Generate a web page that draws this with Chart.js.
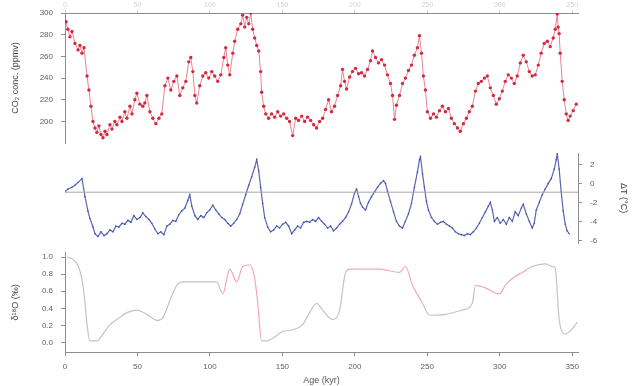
<!DOCTYPE html>
<html>
<head>
<meta charset="utf-8">
<title>Ice core record</title>
<script src="https://cdn.jsdelivr.net/npm/chart.js@4.4.1/dist/chart.umd.min.js"></script>
<style>
    body { margin: 0; background: #fff; }
    #wrap { position: relative; width: 633px; height: 386px; overflow: hidden; }
    #wrap canvas { position: absolute; left: 0; }
</style>
</head>
<body>
<div id="wrap">
    <canvas id="co2Chart" width="633" height="156" style="top:0px"></canvas>
    <canvas id="tempChart" width="633" height="116" style="top:140px"></canvas>
    <canvas id="isoChart" width="633" height="146" style="top:240px"></canvas>
</div>
<script>
// Age axis (kyr before present)
const ageMin = 0;
const ageMax = 354;
const ageTicks = [0, 50, 100, 150, 200, 250, 300, 350];

// CO2 record
const co2Age = [
    0.7, 2, 3.4, 4.8, 6.9, 9, 10.3, 11.7, 13.1, 15.2,
    16.5, 17.9, 19.3, 20.7, 22, 23.4, 24.8, 26.2, 27.6, 28.9,
    31, 32.4, 34.4, 35.8, 37.9, 39.3, 41.3, 42.7, 44.8, 46.2,
    48.2, 49.6, 51.7, 53.7, 55.1, 56.5, 58.6, 60.6, 62.7, 64.8,
    66.8, 68.9, 71, 73, 75.1, 77.2, 79.2, 81.3, 83.4, 85.4,
    86.8, 88.2, 89.6, 90.9, 93, 95.1, 97.1, 99.2, 101.3, 103.3,
    105.4, 107.5, 109.6, 110.9, 112.3, 113.7, 115.8, 117.1, 119.2, 121.3,
    122.6, 124, 125.4, 126.8, 128.2, 129.5, 130.9, 132.3, 133.7, 135,
    135.7, 137.1, 138.5, 140.5, 142.6, 144.7, 146.8, 148.8, 150.9, 153,
    155, 157.1, 159.2, 161.2, 163.3, 165.4, 167.4, 169.5, 171.6, 173.6,
    175.7, 177.8, 179.8, 181.9, 183.9, 186, 188.1, 190.2, 191.5, 192.9,
    194.3, 196.4, 198.4, 200.5, 202.6, 204.6, 206.7, 208.8, 210.8, 212.2,
    214.3, 216.3, 218.4, 220.5, 222.5, 224.6, 226, 227.4, 228.7, 230.8,
    232.9, 234.9, 237, 239.1, 241.1, 243.2, 244.6, 246, 247.3, 248.7,
    250.1, 252.2, 254.3, 256.3, 258.4, 260.4, 262.5, 264.6, 266.6, 268.7,
    270.8, 272.8, 274.9, 277, 279, 281.1, 283.2, 285.2, 287.3, 289.4,
    291.4, 293.5, 295.6, 297.6, 299.7, 301.8, 303.8, 305.9, 308, 310,
    312.1, 314.2, 316.2, 318.3, 320.4, 322.4, 324.5, 326.6, 328.6, 330.7,
    332.8, 334.8, 336.9, 338.3, 339.7, 340.3, 341, 341.7, 343.1, 344.5,
    345.9, 347.2, 348.6, 350.7, 352.8
];
const co2Ppm = [
    292, 285, 278, 283, 272, 266, 270, 263, 268, 242,
    229, 214, 200, 194, 190, 196, 188, 185, 191, 188,
    197, 193, 200, 197, 204, 200, 209, 203, 214, 207,
    220, 226, 216, 214, 217, 224, 209, 203, 198, 203,
    207, 233, 240, 229, 237, 242, 224, 231, 237, 255,
    259, 246, 224, 217, 233, 242, 245, 240, 246, 242,
    237, 243, 259, 268, 252, 243, 263, 274, 285, 290,
    298, 287, 296, 290, 300, 285, 277, 270, 265, 246,
    227, 214, 207, 203, 207, 204, 209, 205, 207, 203,
    200, 187, 203, 201, 205, 200, 204, 201, 197, 194,
    200, 203, 211, 220, 209, 214, 224, 233, 248, 237,
    230, 241, 246, 249, 244, 245, 242, 248, 256, 265,
    259, 254, 257, 252, 243, 235, 224, 202, 215, 224,
    235, 240, 247, 252, 261, 268, 279, 263, 242, 229,
    209, 203, 207, 204, 210, 214, 209, 212, 203, 198,
    194, 191, 198, 203, 209, 214, 228, 235, 237, 240,
    242, 231, 224, 216, 221, 228, 237, 243, 240, 235,
    242, 254, 261, 255, 246, 242, 243, 252, 263, 272,
    274, 269, 277, 285, 299, 287, 281, 263, 237, 220,
    207, 201, 205, 210, 216
];
const co2Ticks = [200, 220, 240, 260, 280, 300];

// Temperature anomaly record
const tempAge = [
    0, 2.1, 4.8, 6.9, 9, 11.7, 13.8, 15.8, 17.2, 19.3,
    20.7, 22.7, 24.8, 26.9, 28.9, 31, 33.1, 35.1, 37.2, 39.3,
    41.3, 43.4, 45.5, 47.5, 49.6, 51.7, 53.7, 55.8, 57.9, 59.9,
    62, 64.1, 66.1, 68.2, 70.3, 72.3, 74.4, 76.5, 78.5, 80.6,
    82.7, 84.7, 86.1, 87.5, 89.6, 91.6, 93.7, 95.8, 97.8, 99.9,
    102, 104, 106.1, 108.2, 110.2, 112.3, 114.4, 116.4, 118.5, 120.6,
    122.6, 124.7, 126.8, 128.8, 130.9, 132.3, 133.7, 135, 136.4, 137.8,
    139.9, 141.9, 144, 146.1, 148.1, 150.2, 152.3, 154.3, 156.4, 158.5,
    160.5, 162.6, 164.7, 166.7, 168.8, 170.9, 172.9, 175, 177.1, 179.1,
    181.2, 183.3, 185.3, 187.4, 189.5, 191.5, 193.6, 195.7, 197.7, 199.8,
    201.2, 202.6, 203.9, 205.3, 207.4, 209.4, 211.5, 213.6, 215.7, 217.7,
    219.8, 221.2, 222.5, 224.6, 226.7, 228.7, 230.8, 232.9, 234.9, 237,
    239.1, 241.1, 243.2, 244.6, 245.3, 246.7, 248, 249.4, 250.8, 252.9,
    254.9, 257, 259.1, 261.1, 263.2, 265.3, 267.3, 269.4, 271.4, 273.5,
    275.6, 277.7, 279.7, 281.8, 283.9, 285.9, 288, 290.1, 292.1, 293.5,
    294.9, 296.3, 298.3, 300.4, 302.5, 304.5, 306.6, 308.7, 310.7, 312.8,
    314.9, 316.2, 318.3, 320.4, 322.4, 323.8, 325.2, 327.3, 329.3, 331.4,
    333.5, 335.5, 337.6, 339, 339.7, 341, 342.4, 343.8, 345.2, 346.5,
    347.9
];
const tempDelta = [
    -0.9, -0.6, -0.4, -0.2, 0.1, 0.5, -1.4, -2.9, -3.7, -4.6,
    -5.3, -5.6, -5.1, -5.5, -5.3, -4.9, -5.1, -4.5, -4.6, -4.2,
    -4.3, -3.9, -4.1, -3.4, -3.8, -3.6, -3.1, -3.5, -3.8, -4.2,
    -4.8, -5.3, -5.1, -5.4, -4.5, -4.3, -3.9, -4, -3.3, -2.9,
    -2.6, -1.8, -1.2, -2.4, -3.4, -3.8, -3.4, -3.6, -3.1, -2.8,
    -2.3, -2.8, -3.2, -3.6, -3.8, -4.2, -4.5, -4.2, -3.8, -3.2,
    -2.2, -1.2, -0.2, 0.7, 1.7, 2.5, 1.3, -0.4, -2.1, -3.6,
    -4.6, -5.1, -4.9, -4.5, -4.7, -4.3, -4.1, -4.5, -5.3, -4.9,
    -4.5, -4.7, -4.1, -4, -4.1, -3.8, -4, -3.6, -4, -4.3,
    -4.7, -4.5, -5, -4.7, -4.3, -4, -3.6, -3, -2.2, -1,
    -0.6, -1.4, -2.1, -2.5, -2.8, -2, -1.4, -0.9, -0.4, 0,
    0.3, 0, -0.8, -1.9, -3, -4, -4.5, -4.7, -4, -3.2,
    -2.1, -0.4, 1.2, 2.5, 2.8, 1, -0.4, -1.9, -2.8, -3.6,
    -4, -4.3, -4.1, -4, -4.3, -4.5, -4.7, -5.1, -5.3, -5.4,
    -5.5, -5.3, -5.4, -5.1, -4.7, -4.2, -3.6, -3, -2.4, -2,
    -2.8, -4, -3.6, -4.2, -3.8, -4.3, -3.6, -4, -3, -3.4,
    -2.6, -2.2, -3.2, -4, -4.7, -4.2, -2.8, -2, -1.2, -0.6,
    0, 0.5, 1.5, 2.5, 3.1, 1.5, -0.9, -2.9, -4.3, -5,
    -5.3
];
const tempPresent = -0.93;
const tempTicks = [2, 0, -2, -4, -6];

// Isotope record
const isoAge = [
    1.4, 4.8, 8.3, 10.3, 12.4, 13.8, 15.2, 17.2, 22, 26.2,
    31, 35.8, 42.7, 49.6, 56.5, 63.4, 67.5, 72.3, 77.2, 81.3,
    93, 104.7, 108.9, 113.7, 118.5, 122.6, 127.5, 130.9, 133, 135.7,
    139.2, 143.3, 150.2, 157.1, 164, 168.8, 173.6, 177.8, 184.6, 189.5,
    193.6, 196.4, 217, 230.8, 234.9, 239.8, 246.7, 251.5, 262.5, 274.2,
    281.1, 283.2, 290.1, 299.7, 303.8, 308.7, 315.6, 322.4, 331.4, 336.2,
    338.3, 341, 345.2, 350, 353.5
];
const isoValue = [
    1.0, 0.98, 0.92, 0.84, 0.67, 0.46, 0.21, 0.02, 0.02, 0.1,
    0.21, 0.27, 0.35, 0.38, 0.33, 0.26, 0.29, 0.49, 0.67, 0.71,
    0.71, 0.71, 0.57, 0.86, 0.71, 0.89, 0.91, 0.75, 0.46, 0.02,
    0.02, 0.05, 0.13, 0.15, 0.21, 0.35, 0.46, 0.38, 0.27, 0.38,
    0.82, 0.86, 0.86, 0.82, 0.89, 0.67, 0.46, 0.32, 0.33, 0.38,
    0.46, 0.67, 0.64, 0.57, 0.67, 0.75, 0.82, 0.89, 0.92, 0.89,
    0.87, 0.27, 0.1, 0.16, 0.24
];
const isoTicks = [0, 0.2, 0.4, 0.6, 0.8, 1.0];
const isoHighlight = [[107, 134], [193, 242], [283, 316]];

const axisColor = '#8c8c8c';
const tickColor = '#606060';

Chart.defaults.font.family = '"Liberation Sans", Arial, sans-serif';
Chart.defaults.animation = false;
Chart.defaults.plugins.legend.display = false;
Chart.defaults.plugins.tooltip.enabled = false;

document.addEventListener('DOMContentLoaded', function() {
    createCo2Chart();
    createTempChart();
    createIsoChart();
});

function toPoints(xs, ys) {
    return xs.map((x, i) => ({ x: x, y: ys[i] }));
}

function fixWidth(w) {
    return function(scale) { scale.width = w; };
}

function fixHeight(h) {
    return function(scale) { scale.height = h; };
}

function setTicks(values) {
    return function(scale) { scale.ticks = values.map(v => ({ value: v })); };
}

function createCo2Chart() {
    const ctx = document.getElementById('co2Chart').getContext('2d');
    new Chart(ctx, {
        type: 'line',
        data: {
            datasets: [{
                data: toPoints(co2Age, co2Ppm),
                borderColor: 'rgba(228, 90, 110, 0.75)',
                borderWidth: 1,
                pointRadius: 1.7,
                pointBackgroundColor: '#d22a40',
                pointBorderColor: '#d22a40',
                pointBorderWidth: 0,
                tension: 0
            }]
        },
        options: {
            responsive: false,
            layout: { padding: { left: 0, right: 55, top: 0, bottom: 5 } },
            scales: {
                x: {
                    type: 'linear',
                    position: 'top',
                    min: ageMin,
                    max: ageMax,
                    afterBuildTicks: setTicks(ageTicks),
                    afterFit: fixHeight(13),
                    ticks: { color: '#d4d4d4', font: { size: 7 }, padding: 1, maxRotation: 0 },
                    grid: { drawOnChartArea: false, tickLength: 3, color: '#d0d0d0' },
                    border: { color: axisColor }
                },
                y: {
                    min: 180,
                    max: 300,
                    afterBuildTicks: setTicks(co2Ticks),
                    afterFit: fixWidth(65),
                    ticks: { color: tickColor, font: { size: 8 }, padding: 8 },
                    grid: { drawOnChartArea: false, tickLength: 4, color: axisColor },
                    border: { color: axisColor },
                    title: {
                        display: true,
                        text: 'CO₂ conc. (ppmv)',
                        color: '#444',
                        font: { size: 9 },
                        padding: { top: 10, bottom: 0 }
                    }
                }
            }
        }
    });
}

function createTempChart() {
    const ctx = document.getElementById('tempChart').getContext('2d');
    new Chart(ctx, {
        type: 'line',
        data: {
            datasets: [
                {
                    data: [{ x: ageMin, y: tempPresent }, { x: ageMax, y: tempPresent }],
                    borderColor: '#a8a8a8',
                    borderWidth: 1,
                    pointRadius: 0,
                    yAxisID: 'y'
                },
                {
                    data: toPoints(tempAge, tempDelta),
                    borderColor: '#5866b4',
                    borderWidth: 1.2,
                    pointRadius: 0.8,
                    pointBackgroundColor: '#4454a8',
                    pointBorderWidth: 0,
                    tension: 0,
                    yAxisID: 'y'
                }
            ]
        },
        options: {
            responsive: false,
            layout: { padding: { left: 65, right: 0, top: 13, bottom: 5 } },
            scales: {
                x: {
                    type: 'linear',
                    display: false,
                    min: ageMin,
                    max: ageMax
                },
                y: {
                    position: 'right',
                    min: -6.3,
                    max: 3.2,
                    afterBuildTicks: setTicks(tempTicks),
                    afterFit: fixWidth(55),
                    ticks: { color: tickColor, font: { size: 8 }, padding: 8 },
                    grid: { drawOnChartArea: false, tickLength: 4, color: axisColor },
                    border: { color: axisColor },
                    title: {
                        display: true,
                        text: 'ΔT (°C)',
                        color: '#444',
                        font: { size: 9 },
                        padding: { top: 4, bottom: 0 }
                    }
                }
            }
        }
    });
}

function createIsoChart() {
    const ctx = document.getElementById('isoChart').getContext('2d');
    new Chart(ctx, {
        type: 'line',
        data: {
            datasets: [{
                data: toPoints(isoAge, isoValue),
                borderColor: '#c4c4c4',
                borderWidth: 1.2,
                pointRadius: 0,
                cubicInterpolationMode: 'monotone',
                segment: {
                    borderColor: function(seg) {
                        const a = seg.p0.parsed.x;
                        const hit = isoHighlight.some(r => a >= r[0] && a < r[1]);
                        return hit ? '#f2a8b2' : undefined;
                    }
                }
            }]
        },
        options: {
            responsive: false,
            layout: { padding: { left: 0, right: 55, top: 5, bottom: 0 } },
            scales: {
                x: {
                    type: 'linear',
                    min: ageMin,
                    max: ageMax,
                    afterBuildTicks: setTicks(ageTicks),
                    afterFit: fixHeight(34),
                    ticks: { color: tickColor, font: { size: 8 }, padding: 6, maxRotation: 0 },
                    grid: { drawOnChartArea: false, tickLength: 4, color: axisColor },
                    border: { color: axisColor },
                    title: {
                        display: true,
                        text: 'Age (kyr)',
                        color: '#555',
                        font: { size: 9 },
                        padding: { top: 0, bottom: 0 }
                    }
                },
                y: {
                    min: -0.11,
                    max: 1.05,
                    afterBuildTicks: setTicks(isoTicks),
                    afterFit: fixWidth(65),
                    ticks: {
                        color: tickColor,
                        font: { size: 8 },
                        padding: 8,
                        callback: function(value) { return value.toFixed(1); }
                    },
                    grid: { drawOnChartArea: false, tickLength: 4, color: axisColor },
                    border: { color: axisColor },
                    title: {
                        display: true,
                        text: 'δ¹⁸O (‰)',
                        color: '#444',
                        font: { size: 9 },
                        padding: { top: 10, bottom: 0 }
                    }
                }
            }
        }
    });
}
</script>
</body>
</html>
